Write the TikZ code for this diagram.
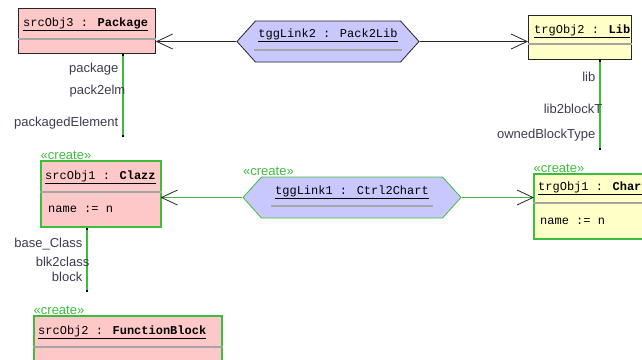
\documentclass[tikz,border=0pt]{standalone}
\usepackage{fontspec}
\setmainfont{Liberation Sans}
\newfontfamily\objfont{Liberation Mono}
\usetikzlibrary{shapes.symbols, arrows.meta, positioning}

\definecolor{objpink}{RGB}{255,200,200}
\definecolor{objyellow}{RGB}{255,255,200}
\definecolor{linkblue}{RGB}{200,200,255}
\definecolor{creategreen}{RGB}{60,190,60}
\definecolor{rolegray}{RGB}{60,60,80}
\definecolor{divgray}{RGB}{165,165,165}

\begin{document}
\begin{tikzpicture}[
    x=1bp, y=-1bp,
    obj/.style={rectangle, draw=black!85, line width=0.8bp, anchor=north west, inner sep=0pt},
    srcobj/.style={obj, fill=objpink},
    trgobj/.style={obj, fill=objyellow},
    created/.style={draw=creategreen, line width=1.5bp},
    objname/.style={anchor=west, inner sep=0pt, font=\objfont\fontsize{12bp}{14bp}\selectfont},
    link/.style={signal, signal to=west and east, signal pointer angle=96, draw=black!85, fill=linkblue, line width=0.8bp, inner sep=0pt},
    linkname/.style={inner xsep=4bp, inner ysep=0pt, font=\objfont\fontsize{12bp}{14bp}\selectfont},
    divider/.style={divgray, line width=1.5bp},
    stereo/.style={anchor=south west, inner sep=0.5bp, text=creategreen, font=\fontsize{13bp}{15bp}\selectfont},
    assoc/.style={draw=black!85, line width=0.8bp, -{Straight Barb[length=16bp, width=15bp]}},
    newassoc/.style={draw=creategreen, line width=1.6bp},
    barb/.style={draw=black!85, line width=0.8bp},
    role/.style={left=3bp, inner sep=1bp, text=rolegray, font=\fontsize{13bp}{15bp}\selectfont},
    rolename/.style={role, left=-4bp},
    rolelink/.style={draw=creategreen, line width=1.4bp, {Square[length=2.5bp, width=2.5bp, color=black]}-{Square[length=2.5bp, width=2.5bp, color=black]}}
]
\useasboundingbox (0,0) rectangle (642,359);
\clip (0,0) rectangle (642,359);

% Objects
\node[srcobj, minimum width=137bp, minimum height=45bp] (srcObj3) at (18,8) {};
\node[trgobj, minimum width=103bp, minimum height=44bp] (trgObj2) at (528,15) {};
\node[srcobj, created, minimum width=120bp, minimum height=66bp] (srcObj1) at (40,160) {};
\node[trgobj, created, minimum width=140bp, minimum height=65bp] (trgObj1) at (533,173) {};
\node[srcobj, created, minimum width=188bp, minimum height=70bp] (srcObj2) at (33,315) {};

% Compartments
\foreach \b/\d in {srcObj3/31, trgObj2/29, srcObj1/32, trgObj1/30, srcObj2/32}
    \draw[divider] ([yshift=-\d bp]\b.north west) -- ([yshift=-\d bp]\b.north east);

% Object names
\node[objname] (srcObj3t) at ([xshift=5bp, yshift=-16bp]srcObj3.north west) {\underline{srcObj3 : \textbf{Package}}};
\node[objname] (trgObj2t) at ([xshift=6bp, yshift=-16bp]trgObj2.north west) {\underline{trgObj2 : \textbf{Lib}}};
\node[objname] (srcObj1t) at ([xshift=5bp, yshift=-17bp]srcObj1.north west) {\underline{srcObj1 : \textbf{Clazz}}};
\node[objname] (trgObj1t) at ([xshift=5bp, yshift=-15bp]trgObj1.north west) {\underline{trgObj1 : \textbf{Chart}}};
\node[objname] (srcObj2t) at ([xshift=5bp, yshift=-17bp]srcObj2.north west) {\underline{srcObj2 : \textbf{FunctionBlock}}};

% Attributes
\node[objname] (srcObj1a) at ([xshift=8bp, yshift=-49bp]srcObj1.north west) {name := n};
\node[objname] (trgObj1a) at ([xshift=7bp, yshift=-48bp]trgObj1.north west) {name := n};

% Links
\node[link, minimum width=182bp, minimum height=41bp] (tggLink2) at (328,41.5) {};
\node[link, draw=creategreen, minimum width=218bp, minimum height=41bp] (tggLink1) at (352,197.5) {};
\node[linkname] (tggLink2t) at ([yshift=6bp]tggLink2.center) {\underline{tggLink2 : Pack2Lib}};
\node[linkname] (tggLink1t) at ([yshift=5bp]tggLink1.center) {\underline{tggLink1 : Ctrl2Chart}};
\draw[divider] ([yshift=-14.5bp]tggLink2t.west) -- ([yshift=-14.5bp]tggLink2t.east);
\draw[divider] ([yshift=-13.5bp]tggLink1t.west) -- ([yshift=-13.5bp]tggLink1t.east);

% Stereotypes
\node[stereo] (srcObj1s) at (srcObj1.north west) {«create»};
\node[stereo] (trgObj1s) at (trgObj1.north west) {«create»};
\node[stereo] (srcObj2s) at (srcObj2.north west) {«create»};
\node[stereo] (tggLink1s) at (tggLink1.north -| tggLink1.west) {«create»};

% Correspondences
\draw[assoc] (tggLink2.west) -- (tggLink2.west -| srcObj3.east);
\draw[assoc] (tggLink2.east) -- (tggLink2.east -| trgObj2.west);
\coordinate (clazzIn) at (srcObj1.east |- tggLink1.west);
\coordinate (chartIn) at (trgObj1.west |- tggLink1.east);
\draw[newassoc] (tggLink1.west) -- (clazzIn);
\draw[newassoc] (tggLink1.east) -- (chartIn);
% black heads on the green lines
\draw[barb] ([xshift=16bp, yshift=7.5bp]clazzIn) -- (clazzIn) -- ([xshift=16bp, yshift=-7.5bp]clazzIn);
\draw[barb] ([xshift=-16bp, yshift=7.5bp]chartIn) -- (chartIn) -- ([xshift=-16bp, yshift=-7.5bp]chartIn);

% Edges
\coordinate (pkgEnd) at (123,137);
\coordinate (libEnd) at (600,150);
\coordinate (clazzEnd) at (87,292);
\draw[rolelink] (srcObj3.south -| pkgEnd) -- node[role, pos=.19] {package} node[rolename, pos=.45] {pack2elm} node[role, pos=.83] {packagedElement} (pkgEnd);
\draw[rolelink] (trgObj2.south -| libEnd) -- node[role, pos=.19] {lib} node[rolename, pos=.54] {lib2blockT} node[role, pos=.84] {ownedBlockType} (libEnd);
\draw[rolelink] (srcObj1.south -| clazzEnd) -- node[role, pos=.26] {base\_Class} node[rolename, pos=.53] {blk2class} node[role, pos=.77] {block} (clazzEnd);

\end{tikzpicture}
\end{document}
